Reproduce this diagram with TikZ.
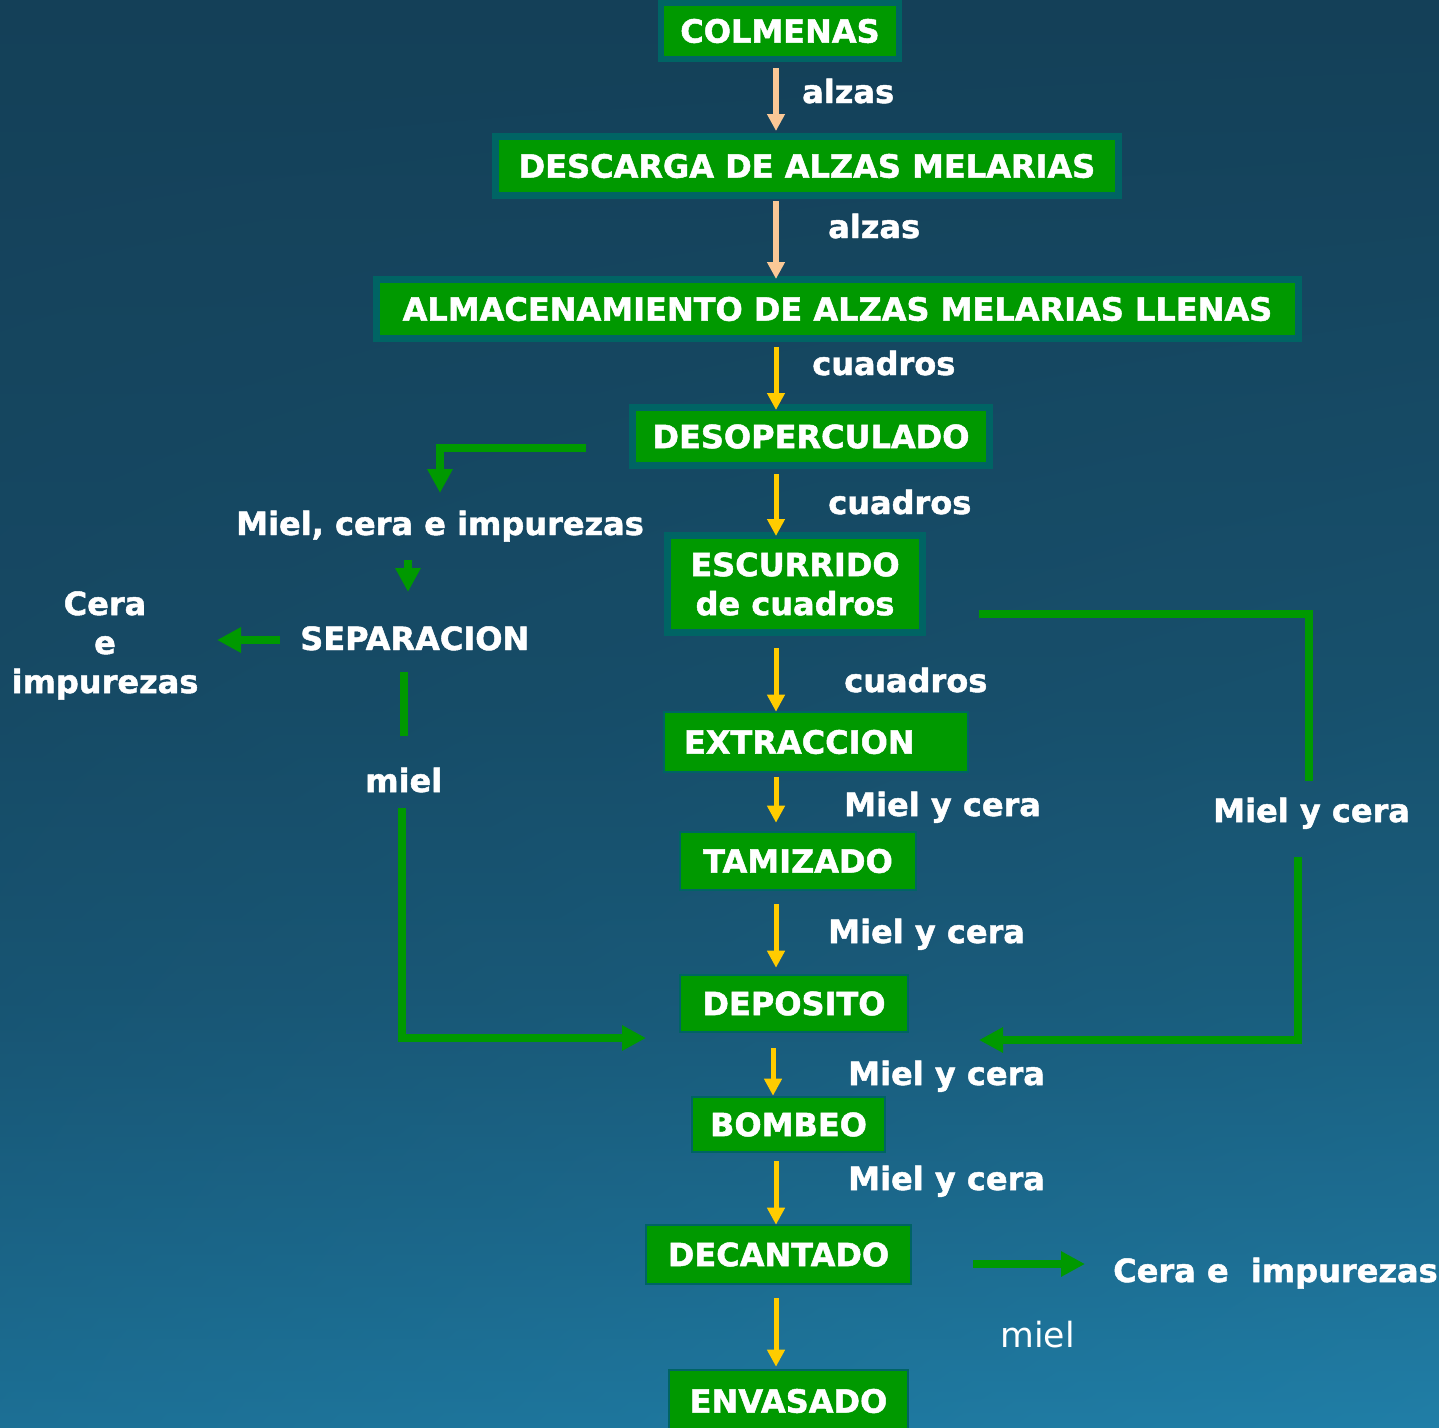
\documentclass[tikz,border=0pt]{standalone}
\usepackage{fontspec}
\setmainfont{DejaVu Sans}[BoldFeatures={FakeBold=1.5}]
\usetikzlibrary{arrows.meta,calc,shadings}

\definecolor{boxgreen}{RGB}{0,153,0}
\definecolor{boxedge}{RGB}{0,100,100}
\definecolor{ayellow}{RGB}{255,204,0}
\definecolor{apeach}{RGB}{250,200,150}
\definecolor{agreen}{RGB}{0,153,0}
\definecolor{bgA}{RGB}{31,123,163}
\definecolor{bgB}{RGB}{28,106,142}
\definecolor{bgC}{RGB}{24,85,115}
\definecolor{bgD}{RGB}{22,72,98}
\definecolor{bgE}{RGB}{20,64,88}
\definecolor{bgL}{RGB}{24,92,125}
\definecolor{bgR}{RGB}{34,134,176}

\pgfdeclareverticalshading{bgsh}{100bp}{color(0bp)=(bgA); color(25bp)=(bgA); color(31.25bp)=(bgB); color(40bp)=(bgC); color(50.5bp)=(bgD); color(75bp)=(bgE); color(100bp)=(bgE)}

\newcommand{\bigtxt}{\fontsize{24pt}{29.25pt}\selectfont\bfseries}

\tikzset{
  box/.style={draw=boxedge, fill=boxgreen, text=white, inner sep=0pt, font=\bigtxt, align=center},
  heavybox/.style={box, line width=5.25pt},
  thinbox/.style={box, line width=1.9pt},
  lbl/.style={text=white, inner sep=0pt, font=\bigtxt, anchor=base west},
  yarrow/.style={draw=ayellow, line width=3.75pt, -{Triangle[length=12.75pt,width=12.75pt]}},
  parrow/.style={draw=apeach, line width=4pt, -{Triangle[length=12.75pt,width=12.75pt]}},
  gline/.style={draw=agreen, line width=5.5pt, line join=miter},
  garrow/.style={gline, -{Triangle[length=18pt,width=18pt]}}
}

\begin{document}
\begin{tikzpicture}[x=0.75pt,y=-0.75pt]
\clip (0,0) rectangle (1439,1428);
\shade[shading=bgsh] (0,0) rectangle (1439,1428);
\shade[upper left=bgE, upper right=bgE, lower left=bgL, lower right=bgR, opacity=0.35] (0,0) rectangle (1439,1428);

\coordinate (ax) at (776,0);
\coordinate (axb) at (773,0);

% boxes
\node[heavybox, line width=4.5pt, minimum width=178.5pt, minimum height=42pt] (col) at (780,31) {COLMENAS};
\node[heavybox, minimum width=467.25pt, minimum height=44.25pt] (desc) at (807,166) {DESCARGA DE ALZAS MELARIAS};
\node[heavybox, minimum width=691.5pt, minimum height=44.25pt] (alm) at (837.5,309) {ALMACENAMIENTO DE ALZAS MELARIAS LLENAS};
\node[heavybox, minimum width=267.75pt, minimum height=43.5pt] (desop) at (811,436.5) {DESOPERCULADO};
\node[heavybox, minimum width=191.25pt, minimum height=72.75pt] (esc) at (795,584) {ESCURRIDO\\de cuadros};
\node[thinbox, minimum width=228pt, minimum height=45pt] (extr) at (816,742) {\makebox[228pt][l]{\hspace{15pt}EXTRACCION}};
\node[thinbox, minimum width=177pt, minimum height=43.5pt] (tam) at (798,861) {TAMIZADO};
\node[thinbox, minimum width=171pt, minimum height=42.75pt] (dep) at (794,1003.5) {DEPOSITO};
\node[thinbox, minimum width=144.75pt, minimum height=41.25pt] (bomb) at (788.5,1124.5) {BOMBEO};
\node[thinbox, minimum width=198.75pt, minimum height=44.25pt] (dec) at (778.5,1254.5) {DECANTADO};
\node[thinbox, minimum width=179.25pt, minimum height=46.5pt] (env) at (788.5,1401) {ENVASADO};

% labels
\node[lbl] (alz1) at (802,103) {alzas};
\node[lbl] (alz2) at (828,238) {alzas};
\node[lbl] (cua1) at (812,375) {cuadros};
\node[lbl] (cua2) at (828,514) {cuadros};
\node[lbl] (cua3) at (844,692) {cuadros};
\node[lbl] (myc1) at (844,816) {Miel y cera};
\node[lbl] (myc2) at (828,943) {Miel y cera};
\node[lbl] (myc3) at (848,1085) {Miel y cera};
\node[lbl] (myc4) at (848,1190) {Miel y cera};
\node[lbl] (mycr) at (1213,822) {Miel y cera};
\node[lbl] (mci) at (236,535) {Miel, cera e impurezas};
\node[lbl] (sep) at (300,650) {SEPARACION};
\node[text=white, inner sep=0pt, font=\bigtxt, align=center, anchor=north] (cei) at (105,591) {Cera\\e\\impurezas};
\node[lbl] (mielL) at (365,792) {miel};
\node[lbl] (ceiR) at (1113,1282) {Cera e~ impurezas};
\node[text=white, inner sep=0pt, font=\fontsize{26pt}{31pt}\selectfont, anchor=base west] (mielR) at (1000,1347) {miel};

% main arrows
\draw[parrow] ($(col.south -| ax)+(0,6)$) -- ($(desc.north -| ax)+(0,-2)$);
\draw[parrow] ($(desc.south -| ax)+(0,2)$) -- ($(alm.north -| ax)+(0,3)$);
\draw[yarrow] ($(alm.south -| ax)+(0,5)$) -- ($(desop.north -| ax)+(0,6)$);
\draw[yarrow] ($(desop.south -| ax)+(0,5)$) -- ($(esc.north -| ax)+(0,4)$);
\draw[yarrow] ($(esc.south -| ax)+(0,12)$) -- ($(extr.north -| ax)+(0,1)$);
\draw[yarrow] ($(extr.south -| ax)+(0,4)$) -- ($(tam.north -| ax)+(0,-8)$);
\draw[yarrow] ($(tam.south -| ax)+(0,13)$) -- ($(dep.north -| ax)+(0,-6)$);
\draw[yarrow] ($(dep.south -| axb)+(0,15)$) -- (bomb.north -| axb);
\draw[yarrow] ($(bomb.south -| ax)+(0,8)$) -- ($(dec.north -| ax)+(0,1)$);
\draw[yarrow] ($(dec.south -| ax)+(0,13)$) -- ($(env.north -| ax)+(0,-2)$);

% green connectors
\coordinate (g1a) at (586,448);
\coordinate (g1b) at (440,493);
\draw[garrow] (g1a) -| (g1b);
\coordinate (g2a) at (408,560);
\coordinate (g2b) at (408,592);
\draw[garrow] (g2a) -- (g2b);
\coordinate (g3a) at (280,640);
\coordinate (g3b) at (217,640);
\draw[garrow] (g3a) -- (g3b);
\coordinate (g4a) at (404,672);
\coordinate (g4b) at (404,736);
\draw[gline] (g4a) -- (g4b);
\coordinate (g5a) at (402,808);
\coordinate (g5b) at (646,1038);
\draw[garrow] (g5a) |- (g5b);
\coordinate (g6a) at (979,614);
\coordinate (g6b) at (1309,781);
\draw[gline] (g6a) -| (g6b);
\coordinate (g7a) at (1298,857);
\coordinate (g7b) at (979,1040);
\draw[garrow] (g7a) |- (g7b);
\coordinate (g8a) at (973,1264);
\coordinate (g8b) at (1085,1264);
\draw[garrow] (g8a) -- (g8b);
\end{tikzpicture}
\end{document}
